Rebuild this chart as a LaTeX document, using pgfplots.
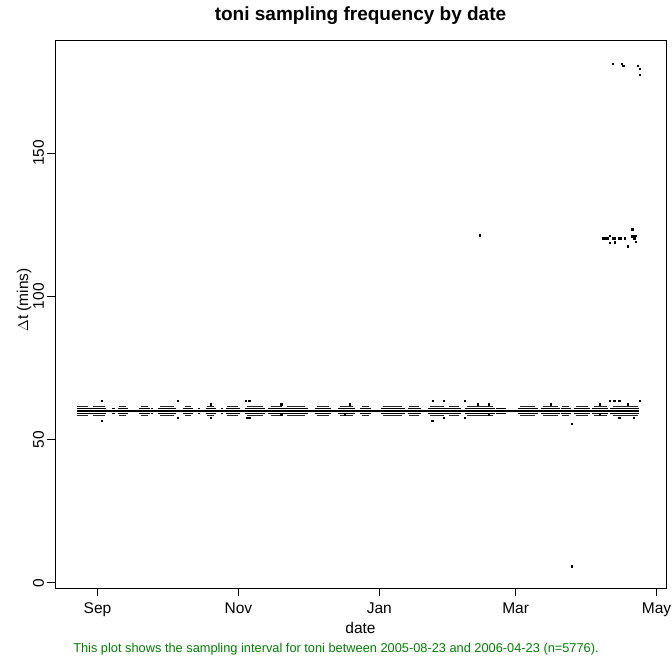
\documentclass[border=0pt]{standalone}
\usepackage{fontspec}
\setmainfont{Liberation Sans}
\usepackage{pgfplots}
\usepackage{pgfplotstable}
\pgfplotsset{compat=1.18}
\definecolor{capgreen}{RGB}{0,128,0}
% x = days since 2005-09-01, y = sampling interval (mins)
\pgfplotstableread{
x up lo
-9 60.75 59.25
3.7 60.75 59.25
3.7 nan nan
6.3 60.75 59.25
7.6 60.75 59.25
7.6 nan nan
8.9 60.75 59.25
13.2 60.75 59.25
13.2 nan nan
18.0 60.75 59.25
22.8 60.75 59.25
22.8 nan nan
23.2 60.75 59.25
24.0 60.75 59.25
24.0 nan nan
26.2 60.75 59.25
34.0 60.75 59.25
34.0 nan nan
37.0 60.75 59.25
41.3 60.75 59.25
41.3 nan nan
43.6 60.75 59.25
44.5 60.75 59.25
44.5 nan nan
46.8 60.75 59.25
51.3 60.75 59.25
51.3 nan nan
53.5 60.75 59.25
54.4 60.75 59.25
54.4 nan nan
55.6 60.75 59.25
61.7 60.75 59.25
61.7 nan nan
63.8 60.75 59.25
72.5 60.75 59.25
72.5 nan nan
73.8 60.75 59.25
91.1 60.75 59.25
91.1 nan nan
94.1 60.75 59.25
101.1 60.75 59.25
101.1 nan nan
104.1 60.75 59.25
111.4 60.75 59.25
111.4 nan nan
113.6 60.75 59.25
118.3 60.75 59.25
118.3 nan nan
122.6 60.75 59.25
133.0 60.75 59.25
133.0 nan nan
134.3 60.75 59.25
140.0 60.75 59.25
140.0 nan nan
143.0 60.75 59.25
157.3 60.75 59.25
157.3 nan nan
159.0 60.75 59.25
172.0 60.75 59.25
172.0 nan nan
172.4 60.75 59.25
176.7 60.75 59.25
176.7 nan nan
181.9 60.75 59.25
190.6 60.75 59.25
190.6 nan nan
191.9 60.75 59.25
200.1 60.75 59.25
200.1 nan nan
200.5 60.75 59.25
205.0 60.75 59.25
205.0 nan nan
206.2 60.75 59.25
213.0 60.75 59.25
213.0 nan nan
214.0 60.75 59.25
221.0 60.75 59.25
221.0 nan nan
222.0 60.75 59.25
234.6 60.75 59.25
}\inner
\pgfplotstableread{
x up lo
-9 61.5 58.5
-4 61.5 58.5
-4 nan nan
-2 61.5 58.5
3.2 61.5 58.5
3.2 nan nan
9.5 61.5 58.5
12.5 61.5 58.5
12.5 nan nan
19 61.5 58.5
22 61.5 58.5
22 nan nan
27 61.5 58.5
33 61.5 58.5
33 nan nan
38 61.5 58.5
40.5 61.5 58.5
40.5 nan nan
47.5 61.5 58.5
50.5 61.5 58.5
50.5 nan nan
56 61.5 58.5
61 61.5 58.5
61 nan nan
64.5 61.5 58.5
71.5 61.5 58.5
71.5 nan nan
75 61.5 58.5
80 61.5 58.5
80 nan nan
82 61.5 58.5
90 61.5 58.5
90 nan nan
95 61.5 58.5
100 61.5 58.5
100 nan nan
105 61.5 58.5
110.5 61.5 58.5
110.5 nan nan
114.5 61.5 58.5
117.5 61.5 58.5
117.5 nan nan
123.5 61.5 58.5
132 61.5 58.5
132 nan nan
135 61.5 58.5
139 61.5 58.5
139 nan nan
144 61.5 58.5
150 61.5 58.5
150 nan nan
152 61.5 58.5
156.5 61.5 58.5
156.5 nan nan
160 61.5 58.5
171 61.5 58.5
171 nan nan
183 61.5 58.5
189.5 61.5 58.5
189.5 nan nan
193 61.5 58.5
199.5 61.5 58.5
199.5 nan nan
201 61.5 58.5
204 61.5 58.5
204 nan nan
207 61.5 58.5
212.5 61.5 58.5
212.5 nan nan
215 61.5 58.5
220.5 61.5 58.5
220.5 nan nan
223 61.5 58.5
234 61.5 58.5
}\outer
\pgfplotstableread{
x y
1.7 63.6
1.7 56.6
34.6 63.6
34.6 57.7
49.0 62.3
49.0 57.7
64.1 63.6
64.8 57.7
65.6 63.6
65.6 57.7
79.5 62.3
79.5 58.7
107.0 58.7
109.1 62.3
145.2 63.6
144.9 56.6
149.9 63.6
149.9 57.7
158.9 63.6
158.9 57.7
164.6 62.3
169.4 62.3
169.4 58.7
196.3 62.3
205.4 55.5
217.3 62.3
217.5 58.7
221.6 63.6
223.7 63.6
225.9 63.6
225.9 57.7
229.5 62.3
232.1 57.7
234.6 63.6
205.3 5.8
165.5 121.3
218.7 120.3
219.4 120.3
220.1 120.3
220.8 120.3
221.6 121.2
221.6 118.6
223.0 120.3
224.0 120.3
224.0 118.8
225.9 120.3
226.6 120.3
228.1 120.3
229.5 117.4
231.4 123.4
231.4 120.9
232.4 120.3
232.7 121.2
233.1 119.1
223.0 181.1
226.8 181.1
227.6 180.4
233.8 180.4
234.6 179.4
234.6 177.3
}\points
\begin{document}
\begin{tikzpicture}
\path[use as bounding box] (0,0) rectangle (672bp,658bp);
\begin{axis}[
  at={(55bp,70bp)}, anchor=south west,
  scale only axis, width=611bp, height=548bp,
  xmin=-18.4, xmax=246.1, ymin=-1.8, ymax=189.4,
  axis line style={line width=0.8bp, black},
  xtick={0,61,122,181,242},
  xticklabels={Sep,Nov,Jan,Mar,May},
  ytick={0,50,100,150},
  xtick pos=bottom, ytick pos=left,
  tick align=outside, major tick length=8bp,
  tick style={line width=0.8bp, black},
  /pgf/number format/assume math mode=true,
  ticklabel style={font=\fontsize{15.5bp}{18bp}\selectfont},
  yticklabel style={rotate=90, anchor=base},
  yticklabel shift=3bp,
  xticklabel style={anchor=base},
  xticklabel shift=17bp,
  xlabel={date}, ylabel={$\Delta$t (mins)},
  every axis x label/.style={at={(axis description cs:0.5,0)}, anchor=base, yshift=-45bp, font=\fontsize{15.5bp}{18bp}\selectfont},
  every axis y label/.style={at={(axis description cs:0,0.5)}, rotate=90, anchor=center, yshift=31bp, xshift=14bp, font=\fontsize{15.5bp}{18bp}\selectfont},
  title={toni sampling frequency by date},
  title style={at={(axis description cs:0.5,1)}, anchor=base, yshift=14bp, font=\fontsize{19bp}{22bp}\selectfont\bfseries},
]
\addplot[black, line width=1.4bp] coordinates {(-9,60) (234.6,60)};
\addplot[black, line width=1.0bp, unbounded coords=jump] table[x=x, y=up] {\inner};
\addplot[black, line width=1.0bp, unbounded coords=jump] table[x=x, y=lo] {\inner};
\addplot[black!85, line width=0.9bp, unbounded coords=jump] table[x=x, y=up] {\outer};
\addplot[black!85, line width=0.9bp, unbounded coords=jump] table[x=x, y=lo] {\outer};
\addplot[only marks, mark=square*, mark size=0.7bp, black] table[x=x, y=y] {\points};
\end{axis}
\node[anchor=base, text=capgreen, font=\fontsize{12.8bp}{15bp}\selectfont] at (336bp,6bp)
  {This plot shows the sampling interval for toni between 2005-08-23 and 2006-04-23 (n=5776).};
\end{tikzpicture}
\end{document}
